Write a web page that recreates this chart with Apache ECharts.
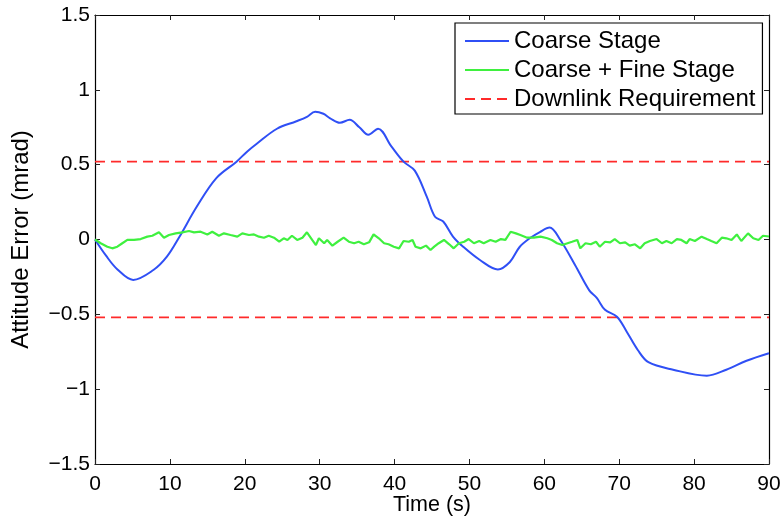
<!DOCTYPE html>
<html>
<head>
<meta charset="utf-8">
<script src="https://cdn.jsdelivr.net/npm/echarts@6/dist/echarts.min.js"></script>
<style>html,body{margin:0;padding:0;background:#fff;}#c{width:782px;height:523px;}</style>
</head>
<body>
<div id="c"></div>
<script>
var xTicks = [0, 10, 20, 30, 40, 50, 60, 70, 80, 90];
var yTicks = [-1.5, -1, -0.5, 0, 0.5, 1, 1.5];
var requirement = 0.52;

var coarseStage = [
  [0, 0], [1.5, -0.11], [3, -0.20], [5.1, -0.27], [7.8, -0.204], [9.6, -0.115],
  [11.3, 0.02], [13.6, 0.22], [16.2, 0.41], [18.9, 0.52], [20.3, 0.587], [21.6, 0.64],
  [24.3, 0.74], [26.9, 0.79], [28.3, 0.82], [29.4, 0.854], [30.5, 0.84], [31.4, 0.81],
  [32.7, 0.78], [34, 0.80], [35.3, 0.75], [36.5, 0.70], [37.8, 0.74], [39.6, 0.62],
  [41.2, 0.52], [42.7, 0.46], [44.3, 0.286], [45.4, 0.152], [46.5, 0.12], [47.8, 0.02],
  [49.2, -0.05], [51.4, -0.137], [53.8, -0.20], [55.4, -0.15], [56.7, -0.05], [58.1, 0.01],
  [59.4, 0.05], [60.7, 0.08], [62.1, 0.0], [64.1, -0.17], [66.0, -0.34], [67.0, -0.39],
  [68.1, -0.47], [69.7, -0.516], [71.0, -0.616], [72.5, -0.74], [73.9, -0.82], [77.2, -0.87],
  [81.7, -0.91], [84.3, -0.87], [87.0, -0.81], [90, -0.76]
];

var fineStage = [
  [0, 0], [0.76, -0.025], [1.65, -0.048], [2.31, -0.059], [2.98, -0.048], [3.65, -0.025],
  [4.32, -0.003], [5.21, -0.003], [6.1, 0.003], [6.99, 0.019], [7.65, 0.025], [8.54, 0.048],
  [9.21, 0.012], [9.88, 0.03], [10.77, 0.041], [11.66, 0.048], [12.55, 0.057], [13.22, 0.048],
  [14.1, 0.052], [15.0, 0.034], [15.66, 0.052], [16.55, 0.025], [17.22, 0.041], [18.1, 0.03],
  [19.0, 0.019], [19.67, 0.041], [20.56, 0.03], [21.23, 0.034], [21.9, 0.019], [22.56, 0.012],
  [23.2, 0.025], [23.9, 0.012], [24.6, -0.015], [25.2, 0.008], [25.7, -0.003], [26.3, 0.025],
  [27.0, -0.003], [27.7, 0.012], [28.3, 0.048], [29.0, -0.003], [29.5, -0.037], [29.9, 0.008],
  [30.6, -0.025], [31.0, -0.003], [31.7, -0.041], [32.4, -0.015], [33.2, 0.012], [33.9, -0.015],
  [34.6, -0.025], [35.2, -0.015], [35.9, -0.032], [36.6, -0.019], [37.2, 0.034], [37.9, 0.008],
  [38.6, -0.025], [39.2, -0.032], [39.9, -0.048], [40.6, -0.059], [41.2, -0.010], [41.9, -0.015],
  [42.4, -0.003], [42.8, -0.048], [43.5, -0.059], [44.2, -0.041], [44.8, -0.070],
  [45.3, -0.048], [45.9, -0.025], [46.6, -0.003], [47.3, -0.032], [47.9, -0.059], [48.6, -0.025],
  [49.3, -0.015], [49.9, 0.003], [50.6, -0.025], [51.3, -0.010], [51.9, -0.025], [52.8, -0.003],
  [53.5, -0.015], [54.2, 0.003], [54.8, -0.003], [55.5, 0.052], [56.2, 0.041], [56.8, 0.030],
  [57.7, 0.012], [58.6, 0.012], [59.5, 0.019], [60.4, 0.008], [61.0, -0.003], [61.7, -0.025],
  [62.4, -0.037], [63.1, -0.025], [63.7, -0.015], [64.4, -0.003], [64.8, -0.059], [65.5, -0.025],
  [66.2, -0.032], [66.9, -0.015],
  [67.4, -0.048], [68.1, -0.015], [68.8, -0.019], [69.4, 0.003], [70.1, -0.025], [70.8, -0.019],
  [71.4, -0.041], [72.1, -0.032], [72.8, -0.059], [73.4, -0.025], [74.1, -0.010], [75.0, 0.003],
  [75.7, -0.025], [76.3, -0.010], [77.0, -0.025], [77.7, 0.003], [78.3, -0.003], [79.0, -0.025],
  [79.4, 0.003], [80.1, -0.010], [81.0, 0.019], [81.7, 0.003], [82.3, -0.010], [83.0, -0.025],
  [83.7, 0.012], [84.3, 0.008], [85.0, -0.003], [85.7, 0.034], [86.3, -0.010], [87.2, 0.041],
  [87.9, 0.008], [88.6, -0.003], [89.2, 0.025], [90, 0.02]
];

var FONT = 'Liberation Sans, Arial, Helvetica, sans-serif';
function fmtNum(v) { return String(v).replace('-', '\u2212'); }

var chart = echarts.init(document.getElementById('c'), null, {renderer: 'canvas'});
var axisLine = {show: true, onZero: false, lineStyle: {color: '#000', width: 1.2}};
var ticksInside = {show: true, inside: true, length: 5, lineStyle: {color: '#222', width: 1}};

chart.setOption({
  animation: false,
  backgroundColor: '#fff',
  grid: {left: 95, right: 13, top: 15, bottom: 59, containLabel: false, outerBoundsMode: 'none'},
  legend: {
    orient: 'vertical',
    left: 455,
    top: 23,
    backgroundColor: '#fff',
    borderColor: '#000',
    borderWidth: 1.2,
    borderRadius: 0,
    padding: [6, 7, 3, 9],
    itemWidth: 44,
    itemHeight: 14,
    itemGap: 5,
    itemStyle: {opacity: 0},
    textStyle: {fontFamily: FONT, fontSize: 24, lineHeight: 21, color: '#000'},
    data: ['Coarse Stage', 'Coarse + Fine Stage', 'Downlink Requirement']
  },
  xAxis: [{
    type: 'value', min: 0, max: 90, interval: 10,
    name: 'Time (s)', nameLocation: 'middle', nameGap: 30, nameMoveOverlap: false,
    nameTextStyle: {fontFamily: FONT, fontSize: 21.5, color: '#000'},
    axisLine: axisLine, axisTick: ticksInside,
    axisLabel: {fontFamily: FONT, fontSize: 21, color: '#000', margin: 10, formatter: function (v) { return xTicks.indexOf(v) >= 0 ? fmtNum(v) : ''; }},
    splitLine: {show: false}
  }, {
    type: 'value', position: 'top', min: 0, max: 90, interval: 10,
    axisLine: axisLine, axisTick: ticksInside, axisLabel: {show: false}, splitLine: {show: false}
  }],
  yAxis: [{
    type: 'value', min: -1.5, max: 1.5, interval: 0.5,
    name: 'Attitude Error (mrad)', nameLocation: 'middle', nameGap: 62, nameRotate: 90, nameMoveOverlap: false,
    nameTextStyle: {fontFamily: FONT, fontSize: 24, color: '#000'},
    axisLine: axisLine, axisTick: ticksInside,
    axisLabel: {fontFamily: FONT, fontSize: 21, color: '#000', margin: 5, formatter: function (v) { return yTicks.indexOf(v) >= 0 ? fmtNum(v) : ''; }},
    splitLine: {show: false}
  }, {
    type: 'value', position: 'right', min: -1.5, max: 1.5, interval: 0.5,
    axisLine: axisLine, axisTick: ticksInside, axisLabel: {show: false}, splitLine: {show: false}
  }],
  series: [{
    name: 'Coarse Stage', type: 'line', data: coarseStage, showSymbol: false, symbol: 'none',
    smooth: 0.35, lineStyle: {color: '#2f4ff5', width: 2}, itemStyle: {color: '#2f4ff5'}, z: 3
  }, {
    name: 'Coarse + Fine Stage', type: 'line', data: fineStage, showSymbol: false, symbol: 'none',
    lineStyle: {color: '#3ff03f', width: 2.2}, itemStyle: {color: '#3ff03f'}, z: 4
  }, {
    name: 'Downlink Requirement', type: 'line', data: [[0, requirement], [90, requirement]],
    showSymbol: false, symbol: 'none',
    lineStyle: {color: '#ff2a2a', width: 1.8, type: [10, 6]}, itemStyle: {color: '#ff2a2a'}, z: 2
  }, {
    name: 'Downlink Requirement', type: 'line', data: [[0, -requirement], [90, -requirement]],
    showSymbol: false, symbol: 'none',
    lineStyle: {color: '#ff2a2a', width: 1.8, type: [10, 6]}, itemStyle: {color: '#ff2a2a'}, z: 2
  }]
});
</script>
</body>
</html>
